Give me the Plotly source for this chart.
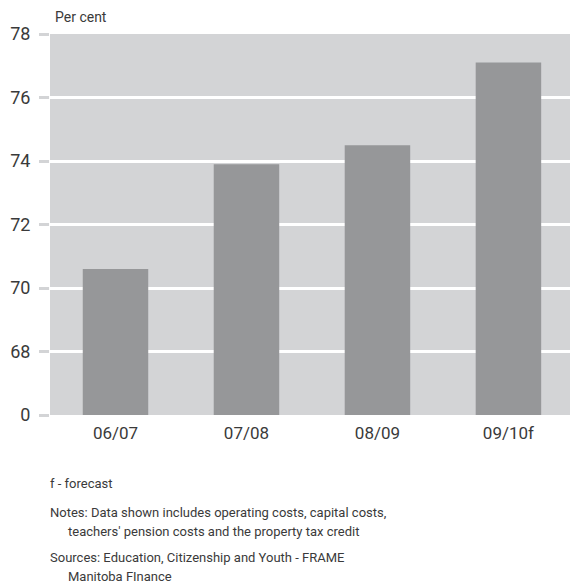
import plotly.graph_objects as go

# Education spending share, per cent (axis broken: 66 on the scale is shown as "0")
years = ["06/07", "07/08", "08/09", "09/10f"]
share_pct = [70.6, 73.9, 74.5, 77.1]
y_tick_vals = [66, 68, 70, 72, 74, 76, 78]
y_tick_text = ["0", "68", "70", "72", "74", "76", "78"]

FONT = "Liberation Sans Narrow, Roboto, sans-serif"
TEXT = "#3a3a3a"
W, H = 570, 587
M_L, M_R, M_T, M_B = 50, 0, 34, 172

fig = go.Figure(
    go.Bar(
        x=years,
        y=[v - y_tick_vals[0] for v in share_pct],
        base=y_tick_vals[0],
        marker=dict(color="#969799", line=dict(width=0)),
        width=0.5,
        hoverinfo="x+text",
        text=[f"{v}" for v in share_pct],
        textposition="none",
    )
)

fig.update_layout(
    width=W,
    height=H,
    margin=dict(l=M_L, r=M_R, t=M_T, b=M_B),
    paper_bgcolor="white",
    plot_bgcolor="#D3D4D6",
    showlegend=False,
    font=dict(family=FONT, color=TEXT),
    xaxis=dict(
        range=[-0.5, 3.47],
        showgrid=False,
        ticks="",
        ticklabelstandoff=6,
        tickfont=dict(size=17, color=TEXT),
        showline=False,
    ),
    yaxis=dict(
        range=[66, 78],
        tickvals=y_tick_vals,
        ticktext=y_tick_text,
        showgrid=True,
        gridcolor="white",
        gridwidth=3,
        zeroline=False,
        ticks="outside",
        ticklen=10,
        tickwidth=3,
        tickcolor="#D3D4D6",
        ticklabelstandoff=5,
        tickfont=dict(size=18, color=TEXT),
    ),
)


def px_ann(text, x, y, size):
    # place text by page pixel position
    fig.add_annotation(
        text=text,
        x=(x - M_L) / (W - M_L - M_R),
        y=(H - M_B - y) / (H - M_B - M_T),
        xref="paper",
        yref="paper",
        xanchor="left",
        yanchor="middle",
        showarrow=False,
        align="left",
        font=dict(size=size, color=TEXT, family=FONT),
    )


px_ann("Per cent", 53, 17, 14)
px_ann("f - forecast", 48, 483, 13)
px_ann("Notes: Data shown includes operating costs, capital costs,", 48, 512, 13)
px_ann("teachers' pension costs and the property tax credit", 66, 531, 13)
px_ann("Sources: Education, Citizenship and Youth - FRAME", 48, 557, 13)
px_ann("Manitoba FInance", 66, 576, 13)

fig.write_html(
    "out.html",
    config={"displayModeBar": False},
    post_script="document.body.style.margin='0';",
)
